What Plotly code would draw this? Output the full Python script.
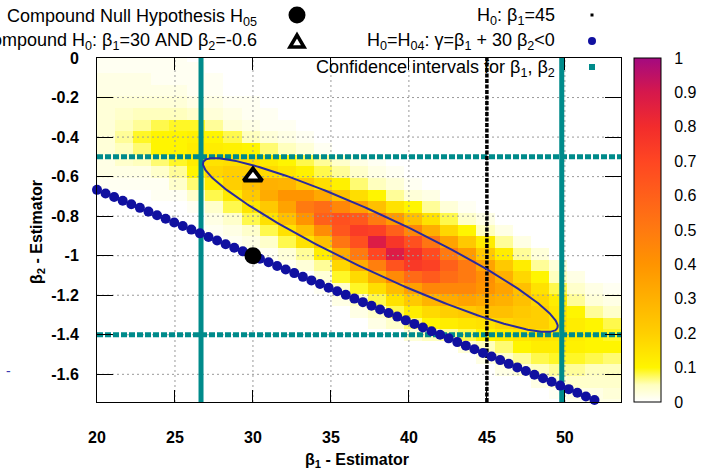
import numpy as np
import plotly.graph_objects as go

# ---------------- figure geometry ----------------
W, H = 701, 470
L, R, T, B = 97, 80, 58, 68
PW, PH = W - L - R, H - T - B

def PX(px):
    return (px - L) / PW

def PY(py):
    return (H - B - py) / PH

# ---------------- axes ----------------
X_RANGE = [20.0, 53.6]
Y_RANGE = [-1.74, 0.0]
X_TICKS = [20, 25, 30, 35, 40, 45, 50]
Y_TICKS = [0, -0.2, -0.4, -0.6, -0.8, -1.0, -1.2, -1.4, -1.6]
Y_TICK_TEXT = ["0", "-0.2", "-0.4", "-0.6", "-0.8", "-1", "-1.2", "-1.4", "-1.6"]
CB_TICKS = [0, 0.1, 0.2, 0.3, 0.4, 0.5, 0.6, 0.7, 0.8, 0.9, 1]
CB_TICK_TEXT = ["0", "0.1", "0.2", "0.3", "0.4", "0.5", "0.6", "0.7", "0.8", "0.9", "1"]

# ---------------- heatmap (relative frequency, %), rows top -> bottom ----------------
CELL_X0 = 20.0        # left edge of first column
CELL_DX = 1.1586      # column width (beta1)
CELL_Y_TOP = 0.0115   # centre of the top row (beta2)
CELL_DY = 0.0589      # row height (beta2)

DENSITY_PCT = [
    [1,1,1,1,1,0,0,0,0,0, 0,0,0,0,0,0,0,0,0,0, 0,0,0,0,0,0,0,0,0],
    [1,1,1,1,1,1,0,0,0,0, 0,0,0,0,0,0,0,0,0,0, 0,0,0,0,0,0,0,0,0],
    [2,2,2,1,1,1,1,0,0,0, 0,0,0,0,0,0,0,0,0,0, 0,0,0,0,0,0,0,0,0],
    [2,2,2,2,2,1,1,0,0,0, 0,0,0,0,0,0,0,0,0,0, 0,0,0,0,0,0,0,0,0],
    [3,3,3,3,3,2,2,1,1,0, 0,0,0,0,0,0,0,0,0,0, 0,0,0,0,0,0,0,0,0],
    [3,4,5,5,5,4,3,2,1,1, 0,0,0,0,0,0,0,0,0,0, 0,0,0,0,0,0,0,0,0],
    [3,5,6,8,9,9,6,3,2,1, 1,0,0,0,0,0,0,0,0,0, 0,0,0,0,0,0,0,0,0],
    [3,6,9,10,10,11,10,8,5,3, 2,1,0,0,0,0,0,0,0,0, 0,0,0,0,0,0,0,0,0],
    [3,5,7,10,10,12,12,11,10,7, 5,3,1,0,0,0,0,0,0,0, 0,0,0,0,0,0,0,0,0],
    [2,4,5,7,9,12,15,16,16,13, 10,8,6,4,2,1,0,0,0,0, 0,0,0,0,0,0,0,0,0],
    [2,2,2,4,6,10,18,20,20,17, 14,11,8,6,4,2,1,0,0,0, 0,0,0,0,0,0,0,0,0],
    [1,1,1,1,4,7,12,20,25,30, 29,22,16,11,7,5,3,1,0,0, 0,0,0,0,0,0,0,0,0],
    [0,0,0,1,1,4,8,13,22,32, 40,40,33,24,16,10,6,3,2,0, 0,0,0,0,0,0,0,0,0],
    [0,0,0,0,0,1,4,8,14,22, 35,50,55,45,36,25,15,10,6,3, 1,0,0,0,0,0,0,0,0],
    [0,0,0,0,0,0,2,4,8,15, 25,40,60,66,63,50,38,25,15,8, 4,2,0,0,0,0,0,0,0],
    [0,0,0,0,0,0,1,2,4,8, 15,25,43,64,74,72,60,45,31,18, 10,5,2,0,0,0,0,0,0],
    [0,0,0,0,0,0,0,1,2,4, 8,15,25,52,66,88,76,66,52,35, 22,12,6,2,0,0,0,0,0],
    [0,0,0,0,0,0,0,0,0,1, 3,6,12,32,50,70,88,78,68,50, 38,22,12,6,3,0,0,0,0],
    [0,0,0,0,0,0,0,0,0,0, 1,3,6,18,32,48,65,75,72,60, 50,35,22,12,6,3,0,0,0],
    [0,0,0,0,0,0,0,0,0,0, 0,0,3,9,17,30,44,56,62,55, 50,42,30,18,10,5,2,0,0],
    [0,0,0,0,0,0,0,0,0,0, 0,0,1,4,9,16,26,36,45,45, 45,40,35,25,15,8,4,2,1],
    [0,0,0,0,0,0,0,0,0,0, 0,0,0,2,4,8,15,22,29,32, 35,32,30,25,18,12,6,3,2],
    [0,0,0,0,0,0,0,0,0,0, 0,0,0,0,2,4,8,12,17,20, 22,25,25,22,20,14,10,6,4],
    [0,0,0,0,0,0,0,0,0,0, 0,0,0,0,0,2,4,7,10,12, 14,15,18,20,20,15,12,10,8],
    [0,0,0,0,0,0,0,0,0,0, 0,0,0,0,0,0,0,3,5,6, 8,10,12,14,15,14,12,10,9],
    [0,0,0,0,0,0,0,0,0,0, 0,0,0,0,0,0,0,0,0,0, 3,5,7,10,12,12,11,10,10],
    [0,0,0,0,0,0,0,0,0,0, 0,0,0,0,0,0,0,0,0,0, 0,2,4,6,8,9,9,8,7],
    [0,0,0,0,0,0,0,0,0,0, 0,0,0,0,0,0,0,0,0,0, 0,0,2,3,5,6,6,5,5],
    [0,0,0,0,0,0,0,0,0,0, 0,0,0,0,0,0,0,0,0,0, 0,0,0,0,2,3,4,4,4],
    [0,0,0,0,0,0,0,0,0,0, 0,0,0,0,0,0,0,0,0,0, 0,0,0,0,0,1,2,2,3],
    [0,0,0,0,0,0,0,0,0,0, 0,0,0,0,0,0,0,0,0,0, 0,0,0,0,0,0,1,2,2],
]

# ---------------- hypotheses / intervals ----------------
CI_BETA1 = [26.67, 49.8]
CI_BETA2 = [-0.5, -1.4]
H0_BETA1 = 45
H05_POINT = (30, -1.0)
H0_COMPOUND = (30, -0.6)

H04_BETA1 = [20.00, 20.55, 21.10, 21.65, 22.20, 22.75, 23.30, 23.85, 24.40, 24.95,
             25.50, 26.05, 26.60, 27.15, 27.70, 28.25, 28.80, 29.35, 29.90, 30.45,
             31.00, 31.55, 32.10, 32.65, 33.20, 33.75, 34.30, 34.85, 35.40, 35.95,
             36.50, 37.05, 37.60, 38.15, 38.70, 39.25, 39.80, 40.35, 40.90, 41.45,
             42.00, 42.55, 43.10, 43.65, 44.20, 44.75, 45.30, 45.85, 46.40, 46.95,
             47.50, 48.05, 48.60, 49.15, 49.70, 50.25, 50.80, 51.35, 51.90, 52.45]
H04_BETA2 = [-0.667, -0.685, -0.703, -0.722, -0.740, -0.758, -0.777, -0.795, -0.813, -0.832,
             -0.850, -0.868, -0.887, -0.905, -0.923, -0.942, -0.960, -0.978, -0.997, -1.015,
             -1.033, -1.052, -1.070, -1.088, -1.107, -1.125, -1.143, -1.162, -1.180, -1.198,
             -1.217, -1.235, -1.253, -1.272, -1.290, -1.308, -1.327, -1.345, -1.363, -1.382,
             -1.400, -1.418, -1.437, -1.455, -1.473, -1.492, -1.510, -1.528, -1.547, -1.565,
             -1.583, -1.602, -1.620, -1.638, -1.657, -1.675, -1.693, -1.712, -1.730, -1.748]

# confidence ellipse: centre and the two semi-axis vectors (beta1, beta2)
ELLIPSE_CENTER = (38.17, -0.946)
ELLIPSE_U = (11.35, -0.4207)
ELLIPSE_V = (-0.762, -0.1275)

# ---------------- styles ----------------
FONT = "Liberation Sans"
TEAL = "#008b8b"
BLUE = "#1010a0"
ELL_COLOR = "#2a2a9e"
GRID_COLOR = "#9a9a9a"
COLORSCALE = [[0.0, "#ffffff"], [0.05, "#ffffbe"], [0.1, "#fff500"], [0.2, "#ffcf00"],
              [0.3, "#ffb100"], [0.4, "#ff9400"], [0.5, "#ff7a10"], [0.6, "#ff601a"],
              [0.7, "#ff4622"], [0.8, "#f22c2c"], [0.9, "#d6184c"], [1.0, "#a40a80"]]

fig = go.Figure()

# heatmap
z = (np.array(DENSITY_PCT[::-1], dtype=float) / 100.0)
nrows = z.shape[0]
CB_X = PX(634)
fig.add_trace(go.Heatmap(
    z=z, x0=CELL_X0 + CELL_DX / 2, dx=CELL_DX,
    y0=CELL_Y_TOP - CELL_DY * (nrows - 1), dy=CELL_DY,
    zmin=0, zmax=1, colorscale=COLORSCALE, zsmooth=False, hoverinfo="skip",
    colorbar=dict(x=CB_X, xanchor="left", y=0.5, yanchor="middle", len=1, lenmode="fraction",
                  thickness=27, thicknessmode="pixels", xpad=0, ypad=0,
                  outlinewidth=1, outlinecolor="black",
                  tickvals=CB_TICKS, ticktext=CB_TICK_TEXT, ticks="outside", ticklen=10,
                  tickcolor="rgba(0,0,0,0)", tickfont=dict(family=FONT, size=16, color="black")),
))

# grid lines (dotted) above heatmap
gx, gy = [], []
for v in X_TICKS[1:]:
    gx += [v, v, None]
    gy += [Y_RANGE[0], Y_RANGE[1], None]
for v in Y_TICKS[1:]:
    gx += [X_RANGE[0], X_RANGE[1], None]
    gy += [v, v, None]
fig.add_trace(go.Scatter(x=gx, y=gy, mode="lines", hoverinfo="skip", showlegend=False,
                         line=dict(color=GRID_COLOR, width=1, dash="2px,3px")))

# confidence intervals
for v in CI_BETA1:
    fig.add_trace(go.Scatter(x=[v, v], y=[Y_RANGE[0], Y_RANGE[1]], mode="lines", showlegend=False,
                             hoverinfo="skip", cliponaxis=False, line=dict(color=TEAL, width=5)))
for v in CI_BETA2:
    fig.add_trace(go.Scatter(x=[X_RANGE[0], X_RANGE[1]], y=[v, v], mode="lines", showlegend=False,
                             hoverinfo="skip", cliponaxis=False,
                             line=dict(color=TEAL, width=5, dash="6px,2px")))

# H0: beta1 = 45
fig.add_trace(go.Scatter(x=[H0_BETA1, H0_BETA1], y=[Y_RANGE[0], Y_RANGE[1]], mode="lines",
                         showlegend=False, hoverinfo="skip",
                         line=dict(color="black", width=3.5, dash="4px,1.5px")))

# H04 boundary points
fig.add_trace(go.Scatter(x=H04_BETA1, y=H04_BETA2, mode="markers", showlegend=False,
                         hoverinfo="skip", cliponaxis=False,
                         marker=dict(color=BLUE, size=10, line=dict(width=0))))

# confidence ellipse
t = np.linspace(0, 2 * np.pi, 361)
ex = ELLIPSE_CENTER[0] + np.cos(t) * ELLIPSE_U[0] + np.sin(t) * ELLIPSE_V[0]
ey = ELLIPSE_CENTER[1] + np.cos(t) * ELLIPSE_U[1] + np.sin(t) * ELLIPSE_V[1]
fig.add_trace(go.Scatter(x=ex, y=ey, mode="lines", showlegend=False, hoverinfo="skip",
                         line=dict(color=ELL_COLOR, width=2)))

# compound hypotheses
fig.add_trace(go.Scatter(x=[H0_COMPOUND[0]], y=[H0_COMPOUND[1]], mode="markers", showlegend=False,
                         hoverinfo="skip",
                         marker=dict(symbol="triangle-up", size=16, color="white",
                                     line=dict(color="black", width=4))))
fig.add_trace(go.Scatter(x=[H05_POINT[0]], y=[H05_POINT[1]], mode="markers", showlegend=False,
                         hoverinfo="skip", marker=dict(symbol="circle", size=17, color="black")))

# ---------------- legend (gnuplot-style key) ----------------
annotations = []
def key_text(text, px, py):
    annotations.append(dict(text=text, x=PX(px), y=PY(py), xref="paper", yref="paper",
                            xanchor="right", yanchor="middle", showarrow=False,
                            font=dict(family=FONT, size=18, color="black")))

key_text("Compound Null Hypothesis H<sub>05</sub>", 259, 17)
key_text("Compound H<sub>0</sub>: β<sub>1</sub>=30 AND β<sub>2</sub>=-0.6", 259, 42)
key_text("H<sub>0</sub>: β<sub>1</sub>=45", 557, 16)
key_text("H<sub>0</sub>=H<sub>04</sub>: γ=β<sub>1</sub> + 30 β<sub>2</sub>&lt;0", 557, 42)
key_text("Confidence intervals for β<sub>1</sub>, β<sub>2</sub>", 557, 68)

# axis titles
annotations.append(dict(text="β<sub>1</sub> - Estimator", x=PX(357), y=PY(460), xref="paper",
                        yref="paper", xanchor="center", yanchor="middle", showarrow=False,
                        font=dict(family=FONT, size=16, color="black", weight="bold")))
annotations.append(dict(text="β<sub>2</sub> - Estimator", x=PX(37), y=PY(232), xref="paper",
                        yref="paper", xanchor="center", yanchor="middle", showarrow=False,
                        textangle=-90,
                        font=dict(family=FONT, size=16, color="black", weight="bold")))
annotations.append(dict(text="-", x=PX(8), y=PY(371), xref="paper", yref="paper",
                        xanchor="center", yanchor="middle", showarrow=False,
                        font=dict(family=FONT, size=14, color="#3a3ab0")))

shapes = []
# key markers
shapes.append(dict(type="circle", xref="paper", yref="paper", x0=PX(288.5), x1=PX(305.5),
                   y0=PY(23.5), y1=PY(6.5), fillcolor="black", line=dict(width=0)))
tri = "M {:.5f} {:.5f} L {:.5f} {:.5f} L {:.5f} {:.5f} Z".format(
    PX(290), PY(47), PX(304), PY(47), PX(297), PY(35))
shapes.append(dict(type="path", xref="paper", yref="paper", path=tri, fillcolor="white",
                   line=dict(color="black", width=3.5)))
shapes.append(dict(type="rect", xref="paper", yref="paper", x0=PX(590.5), x1=PX(593.5),
                   y0=PY(16.5), y1=PY(13.5), fillcolor="black", line=dict(width=0)))
shapes.append(dict(type="circle", xref="paper", yref="paper", x0=PX(588), x1=PX(596),
                   y0=PY(45), y1=PY(37), fillcolor=BLUE, line=dict(width=0)))
shapes.append(dict(type="rect", xref="paper", yref="paper", x0=PX(589), x1=PX(595),
                   y0=PY(70), y1=PY(64), fillcolor=TEAL, line=dict(width=0)))
# colorbar tick dashes
for v in CB_TICKS[1:-1]:
    shapes.append(dict(type="line", xref="paper", yref="paper", x0=PX(634), x1=PX(661),
                       y0=v, y1=v, line=dict(color="black", width=1, dash="8px,4px")))

fig.update_layout(
    width=W, height=H, margin=dict(l=L, r=R, t=T, b=B, autoexpand=False),
    paper_bgcolor="white", plot_bgcolor="white",
    showlegend=False, annotations=annotations, shapes=shapes,
    font=dict(family=FONT, color="black"),
    xaxis=dict(range=X_RANGE, tickvals=X_TICKS, ticks="inside", ticklen=12, tickcolor="black",
               showline=True, linecolor="black", linewidth=1, mirror="ticks",
               showgrid=False, zeroline=False, layer="above traces",
               ticklabelstandoff=21,
               tickfont=dict(family=FONT, size=16, color="black", weight="bold")),
    yaxis=dict(range=Y_RANGE, tickvals=Y_TICKS, ticktext=Y_TICK_TEXT, ticks="inside", ticklen=16,
               tickcolor="black", showline=True, linecolor="black", linewidth=1, mirror="ticks",
               showgrid=False, zeroline=False, layer="above traces",
               ticklabelstandoff=14,
               tickfont=dict(family=FONT, size=16, color="black", weight="bold")),
)

html = fig.to_html(include_plotlyjs=True, full_html=True,
                   config={"displayModeBar": False, "staticPlot": True})
html = html.replace("<head>", "<head><style>html,body{margin:0;padding:0;overflow:hidden;}</style>", 1)
with open("out.html", "w", encoding="utf-8") as f:
    f.write(html)
